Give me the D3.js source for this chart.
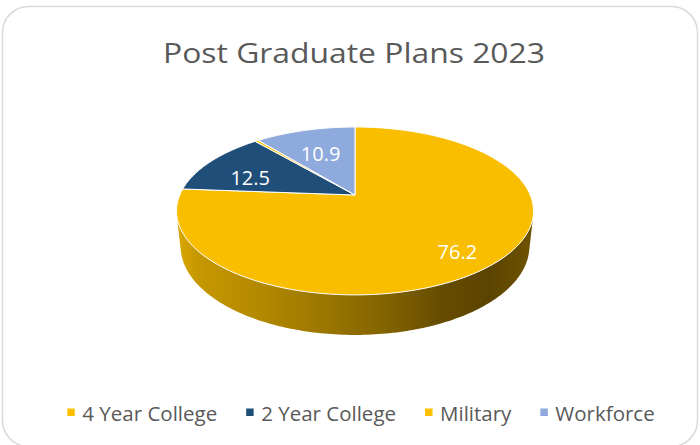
<!DOCTYPE html>
<html>
<head>
<meta charset="utf-8">
<script src="https://cdn.jsdelivr.net/npm/d3@7"></script>
<style>
  html, body { margin: 0; padding: 0; background: #ffffff; }
  svg { display: block; }
  text { font-family: "Open Sans", Lato, "Liberation Sans", sans-serif; }
</style>
</head>
<body>
<svg id="chart" width="700" height="445"></svg>
<script>
// Post graduate plans, class of 2023 (percent of graduates)
const categories = ["4 Year College", "2 Year College", "Military", "Workforce"];
const values = [76.2, 12.5, 0.4, 10.9];
const colors = ["#FABE00", "#1F4E79", "#FFC000", "#8FAADC"];
const legendColors = ["#FFC000", "#1F4E79", "#FFC000", "#8FAADC"];
const title = "Post Graduate Plans 2023";

const svg = d3.select("#chart");

// chart frame
svg.append("rect")
  .attr("x", 2.5).attr("y", 6.5)
  .attr("width", 695).attr("height", 440)
  .attr("rx", 26).attr("ry", 26)
  .attr("fill", "#ffffff")
  .attr("stroke", "#D9D9D9")
  .attr("stroke-width", 1.5);

// title
svg.append("text")
  .attr("x", 354).attr("y", 63)
  .attr("text-anchor", "middle")
  .attr("font-size", 28)
  .attr("fill", "#595959")
  .attr("textLength", 382)
  .attr("lengthAdjust", "spacingAndGlyphs")
  .text(title);

// --- 3D pie: perspective projection of a flat cylinder ---
const cx = 355, cy = 195;           // screen position of the pie centre
const tilt = 27.5 * Math.PI / 180;  // camera elevation
const cs = Math.cos(tilt), sn = Math.sin(tilt);
const D = 4.666;                    // camera distance (in radii)
const F = 817.6;                    // focal scale (px)
const thick = 0.229;                // slab thickness (in radii)

function proj(x, y, z) {
  const depth = D + y * cs - z * sn;
  return [cx + F * x / depth, cy - F * (y * sn + z * cs) / depth];
}
function rim(a, r, z) {
  return proj(r * Math.sin(a), r * Math.cos(a), z);
}

const pie = d3.pie().sort(null).value(d => d)(values);

// angles where the cylinder wall meets the silhouette
const yt = -1 / (D * cs);
const aL = 2 * Math.PI - Math.acos(yt);
const aR = Math.acos(yt);

const xExt = [proj(-1, 0, 0)[0], proj(1, 0, 0)[0]];
const defs = svg.append("defs");
const grad = defs.append("linearGradient")
  .attr("id", "wall")
  .attr("gradientUnits", "userSpaceOnUse")
  .attr("x1", xExt[0] - 2).attr("x2", xExt[1] + 2)
  .attr("y1", 0).attr("y2", 0);
[[0, "#D8A700"], [0.06, "#C59700"], [0.23, "#B38900"], [0.43, "#997400"],
 [0.62, "#7D5F00"], [0.74, "#664C00"], [0.88, "#5B4400"], [1, "#6E5300"]]
  .forEach(([o, c]) => grad.append("stop").attr("offset", o).attr("stop-color", c));

function arcPoints(a0, a1, r, z) {
  const n = Math.max(2, Math.ceil(Math.abs(a1 - a0) / (Math.PI / 180)));
  const pts = [];
  for (let i = 0; i <= n; i++) pts.push(rim(a0 + (a1 - a0) * i / n, r, z));
  return pts;
}

const gPie = svg.append("g");

// outer wall (front part only)
pie.forEach((p, i) => {
  const a0 = Math.max(p.startAngle, aR);
  const a1 = Math.min(p.endAngle, aL);
  if (a1 <= a0) return;
  const top = arcPoints(a0, a1, 1, 0);
  const bot = arcPoints(a1, a0, 1, -thick);
  gPie.append("path")
    .attr("d", d3.line()(top.concat(bot)) + "Z")
    .attr("fill", "url(#wall)")
    .attr("stroke", "none");
});

// top faces
pie.forEach((p, i) => {
  const pts = [proj(0, 0, 0)].concat(arcPoints(p.startAngle, p.endAngle, 1, 0));
  gPie.append("path")
    .attr("d", d3.line()(pts) + "Z")
    .attr("fill", colors[i])
    .attr("stroke", "#ffffff")
    .attr("stroke-width", 1)
    .attr("stroke-linejoin", "round");
});

// value labels
pie.forEach((p, i) => {
  if (values[i] < 1) return;
  const mid = (p.startAngle + p.endAngle) / 2;
  const [lx, ly] = rim(mid, 0.74, 0);
  gPie.append("text")
    .attr("x", lx + 4).attr("y", ly + 8)
    .attr("text-anchor", "middle")
    .attr("dominant-baseline", "central")
    .attr("font-size", 20)
    .attr("fill", "#ffffff")
    .text(values[i]);
});

// legend
const gLeg = svg.append("g");
const items = categories.map((c, i) => {
  const g = gLeg.append("g");
  g.append("rect").attr("x", 0).attr("y", -12.5).attr("width", 7.5).attr("height", 7.5)
    .attr("fill", legendColors[i]);
  const t = g.append("text").attr("x", 15).attr("y", 0)
    .attr("font-size", 20.5).attr("fill", "#595959").text(c);
  return { g, w: 15 + t.node().getComputedTextLength() };
});
const gap = 29;
const total = d3.sum(items, d => d.w) + gap * (items.length - 1);
let x0 = 361 - total / 2;
items.forEach(it => {
  it.g.attr("transform", `translate(${x0},421)`);
  x0 += it.w + gap;
});
</script>
</body>
</html>
